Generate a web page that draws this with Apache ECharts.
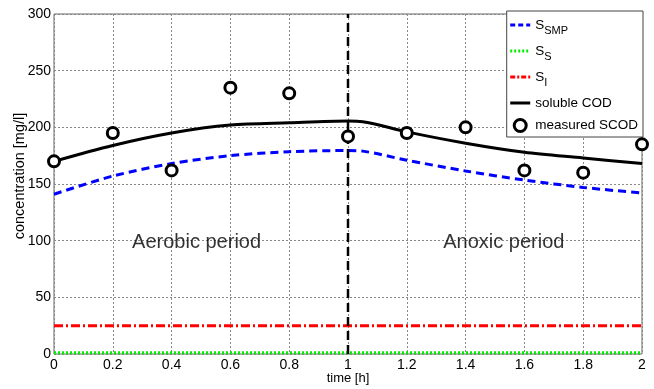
<!DOCTYPE html>
<html>
<head>
<meta charset="utf-8">
<script src="https://cdn.jsdelivr.net/npm/echarts@6/dist/echarts.min.js"></script>
<style>
  html, body { margin: 0; padding: 0; background: #fff; }
  #chart { width: 654px; height: 389px; }
</style>
</head>
<body>
<div id="chart"></div>
<script>
// time [h] for model curves
const modelTime = [0, 0.2, 0.4, 0.6, 0.8, 1.0, 1.05, 1.2, 1.4, 1.6, 1.8, 2.0];
const smpValues = [141, 157, 168, 175, 178.5, 179.5, 179, 171, 161.5, 153.5, 147, 142];
const codValues = [170, 184, 195, 202, 204, 205.5, 205, 196, 186, 178, 173, 168];
const ssValues = [1, 1, 1, 1, 1, 1, 1, 1, 1, 1, 1, 1];
const siValues = [25, 25, 25, 25, 25, 25, 25, 25, 25, 25, 25, 25];

// measured SCOD
const measTime = [0, 0.2, 0.4, 0.6, 0.8, 1.0, 1.2, 1.4, 1.6, 1.8, 2.0];
const measValues = [170, 195, 162, 235, 230, 192, 195, 200, 162, 160, 185];

const periodLabels = ["Aerobic period", "Anoxic period"];
const periodPos = [[0.485, 98], [1.53, 98]];

const pairs = (xs, ys) => xs.map((x, i) => [x, ys[i]]);

const font = "Liberation Sans, Arial, sans-serif";
const smpDash = [8, 5];
const ssDash = [2, 2];
const siDash = [9, 3, 2, 3];

const chart = echarts.init(document.getElementById("chart"));

chart.setOption({
  animation: false,
  textStyle: { fontFamily: font },
  grid: {
    left: 54, right: 12, top: 14, bottom: 35,
    outerBoundsMode: "none",
    containLabel: false,
    show: true, borderColor: "#666", borderWidth: 1,
  },
  xAxis: {
    type: "value",
    min: 0, max: 2, interval: 0.2,
    name: "time [h]",
    nameLocation: "middle",
    nameGap: 18,
    nameMoveOverlap: false,
    nameTextStyle: { fontSize: 13, color: "#000" },
    axisLine: { show: false },
    axisTick: { show: false },
    axisLabel: { color: "#000", fontSize: 14, margin: 4, formatter: (v) => String(+v.toFixed(1)) },
    splitLine: { lineStyle: { color: "#888", type: [2, 2], width: 1 } },
  },
  yAxis: {
    type: "value",
    min: 0, max: 300, interval: 50,
    name: "concentration [mg/l]",
    nameLocation: "middle",
    nameGap: 27,
    nameMoveOverlap: false,
    nameTextStyle: { fontSize: 14.5, color: "#000", padding: [0, 0, 0, 16] },
    axisLine: { show: false },
    axisTick: { show: false },
    axisLabel: { color: "#000", fontSize: 14, margin: 3 },
    splitLine: { lineStyle: { color: "#888", type: [2, 2], width: 1 } },
  },
  legend: {
    right: 11, top: 11,
    orient: "vertical",
    backgroundColor: "#fff",
    borderColor: "#444",
    borderWidth: 1,
    padding: [7, 5, 4, 2],
    itemGap: 8,
    itemWidth: 20,
    itemHeight: 12,
    itemStyle: { opacity: 0 },
    textStyle: {
      fontSize: 13.5, color: "#000",
      rich: {
        sub: { fontSize: 11, padding: [11, 0, 0, 0] },
      },
    },
    formatter: (name) => {
      if (name === "S_SMP") return "S{sub|SMP}";
      if (name === "S_S") return "S{sub|S}";
      if (name === "S_I") return "S{sub|I}";
      return name;
    },
    data: [
      { name: "S_SMP", lineStyle: { type: [5, 3], width: 3, color: "#0000ff" } },
      { name: "S_S", lineStyle: { type: [2, 2], width: 3, color: "#00ee00" } },
      { name: "S_I", lineStyle: { type: [5, 2, 2, 2], width: 3, color: "#ff0000" } },
      { name: "soluble COD", lineStyle: { width: 3, color: "#000" } },
      {
        name: "measured SCOD", icon: "circle",
        itemStyle: { opacity: 1, color: "#fff", borderColor: "#000", borderWidth: 3 },
      },
    ],
  },
  series: [
    {
      name: "S_SMP", type: "line", data: pairs(modelTime, smpValues),
      smooth: 0.3, showSymbol: false, symbol: "none",
      lineStyle: { color: "#0000ff", width: 3, type: smpDash },
      itemStyle: { color: "#0000ff" },
    },
    {
      name: "S_S", type: "line", data: pairs(modelTime, ssValues),
      showSymbol: false, symbol: "none",
      lineStyle: { color: "#00ee00", width: 3, type: ssDash },
      itemStyle: { color: "#00ee00" },
    },
    {
      name: "S_I", type: "line", data: pairs(modelTime, siValues),
      showSymbol: false, symbol: "none",
      lineStyle: { color: "#ff0000", width: 3, type: siDash },
      itemStyle: { color: "#ff0000" },
    },
    {
      name: "soluble COD", type: "line", data: pairs(modelTime, codValues),
      smooth: 0.3, showSymbol: false, symbol: "none",
      lineStyle: { color: "#000", width: 3 },
      itemStyle: { color: "#000" },
    },
    {
      name: "measured SCOD", type: "scatter", data: pairs(measTime, measValues),
      symbol: "circle", symbolSize: 11,
      itemStyle: { color: "#fff", borderColor: "#000", borderWidth: 3, opacity: 1 },
      z: 5,
    },
    {
      name: "divider", type: "line", data: [[1, 0], [1, 300]],
      showSymbol: false, symbol: "none",
      lineStyle: { color: "#000", width: 2.5, type: [9, 5] },
      z: 4,
    },
    {
      name: "periods", type: "scatter", data: periodPos,
      symbolSize: 0,
      label: {
        show: true, position: "inside",
        formatter: (p) => periodLabels[p.dataIndex],
        fontSize: 20, color: "#000", fontFamily: font,
      },
      z: 3,
    },
  ],
});
</script>
</body>
</html>
